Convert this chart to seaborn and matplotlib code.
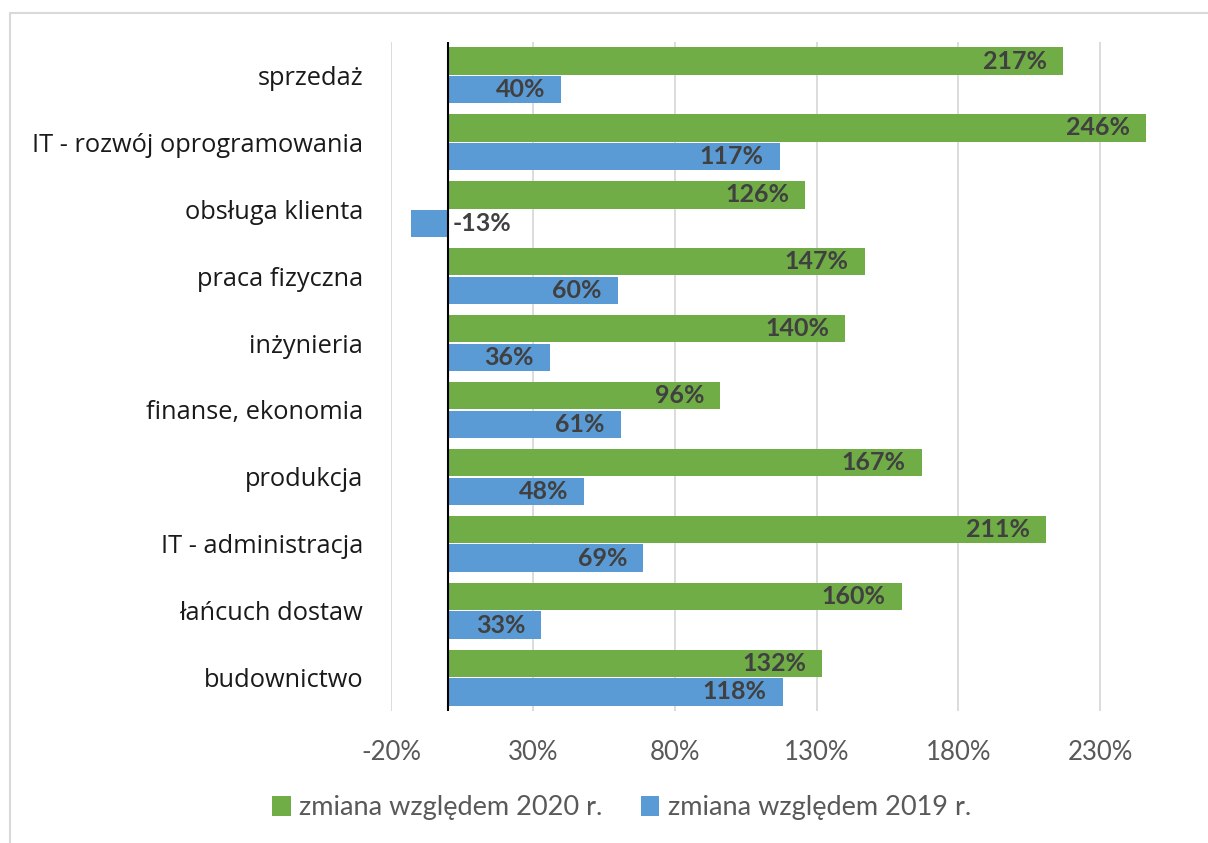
import matplotlib
matplotlib.use("Agg")
import matplotlib.pyplot as plt
import seaborn as sns
import pandas as pd
from matplotlib.patches import Rectangle, Patch

categories = ["sprzedaż", "IT - rozwój oprogramowania", "obsługa klienta", "praca fizyczna",
              "inżynieria", "finanse, ekonomia", "produkcja", "IT - administracja",
              "łańcuch dostaw", "budownictwo"]
series_names = ["zmiana względem 2020 r.", "zmiana względem 2019 r."]
values_2020 = [217, 246, 126, 147, 140, 96, 167, 211, 160, 132]
values_2019 = [40, 117, -13, 60, 36, 61, 48, 69, 33, 118]
xticks = [-20, 30, 80, 130, 180, 230]

colors = ["#70AD47", "#5B9BD5"]

df = pd.DataFrame({
    "kategoria": categories * 2,
    "seria": [series_names[0]] * len(categories) + [series_names[1]] * len(categories),
    "wartosc": values_2020 + values_2019,
})

sns.set_theme(style="white")
plt.rcParams["font.family"] = ["Open Sans", "DejaVu Sans"]

fig = plt.figure(figsize=(12.08, 8.43), dpi=100)
ax = fig.add_axes([391 / 1208, 1 - 711 / 843, (1157 - 391) / 1208, (711 - 42) / 843])

sns.barplot(data=df, y="kategoria", x="wartosc", hue="seria", order=categories,
            hue_order=series_names, palette=colors, orient="h", width=0.86, gap=0.05,
            ax=ax, legend=False, saturation=1, edgecolor="none")

ax.set_xlim(-20, 250)
ax.set_xticks(xticks)
ax.set_xticklabels([f"{t}%" for t in xticks], fontsize=18.5, color="#595959", family=["Lato", "DejaVu Sans"])
ax.set_ylim(len(categories) - 0.5, -0.5)
ax.set_xlabel("")
ax.set_ylabel("")
ax.tick_params(axis="y", length=0, pad=20, labelsize=18.3, labelcolor="#1a1a1a")
ax.tick_params(axis="x", length=0, pad=21)
for s in ax.spines.values():
    s.set_visible(False)
ax.grid(axis="x", color="#D9D9D9", linewidth=1.3)
ax.set_axisbelow(True)
ax.axvline(0, color="black", linewidth=1.5, zorder=3)

for container in ax.containers:
    for bar in container:
        w = bar.get_width()
        yc = bar.get_y() + bar.get_height() / 2
        if w >= 0:
            ax.annotate(f"{w:.0f}%", xy=(w, yc), xytext=(-11.5, 0), textcoords="offset points",
                        ha="right", va="center", fontsize=18, fontweight="bold", color="#404040",
                        family=["Lato", "DejaVu Sans"], zorder=4)
        else:
            ax.annotate(f"{w:.0f}%", xy=(0, yc), xytext=(3.5, 0), textcoords="offset points",
                        ha="left", va="center", fontsize=18, fontweight="bold", color="#404040",
                        family=["Lato", "DejaVu Sans"], zorder=4)

handles = [Patch(facecolor=c, edgecolor="none") for c in colors]
fig.legend(handles, series_names, loc="center", bbox_to_anchor=(0.5145, 1 - 808 / 843), ncol=2,
           frameon=False, labelcolor="#595959", handlelength=0.7, handleheight=0.75,
           columnspacing=1.4, handletextpad=0.3, prop={"family": ["Lato", "DejaVu Sans"], "size": 19.5})

fig.patches.append(Rectangle((10 / 1208, -0.1), 1.2, 1 - 13 / 843 + 0.1, transform=fig.transFigure,
                             fill=False, edgecolor="#D9D9D9", linewidth=1.5))

fig.savefig("out.png", dpi=100)
